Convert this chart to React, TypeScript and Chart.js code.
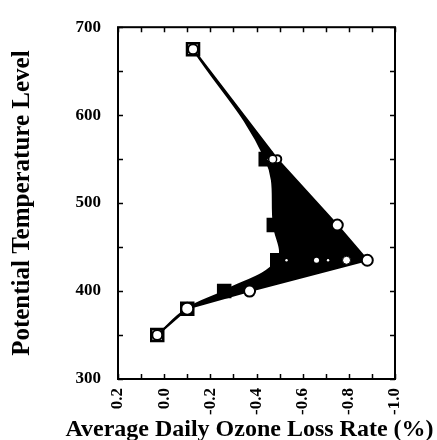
import React, { useEffect, useRef } from "react";
import { Chart, registerables } from "chart.js";

Chart.register(...registerables);

// Potential temperature levels (K) and average daily ozone loss rates (%)
const thetaLevels = [350, 380, 400, 435, 475, 550, 675];
const lossRateSquares = [0.03, -0.1, -0.26, -0.49, -0.475, -0.44, -0.125];
const lossRateCircles = [0.03, -0.1, -0.37, -0.88, -0.75, -0.49, -0.125];
const extraLevels = [550, 550, 435, 435, 435, 435];
const extraRates = [-0.455, -0.47, -0.53, -0.66, -0.71, -0.79];
const xTickValues = [0.2, 0.0, -0.2, -0.4, -0.6, -0.8, -1.0];
const yTickValues = [300, 400, 500, 600, 700];
const xMinorStep = 0.1;
const yMinorStep = 50;
const xAxisTitle = "Average Daily Ozone Loss Rate (%)";
const yAxisTitle = "Potential Temperature Level";

const FONT = "'Liberation Serif', 'Times New Roman', serif";

const framePlugin = {
  id: "frameTicks",
  afterDatasetsDraw(chart: any) {
    const { ctx, chartArea } = chart;
    const { left, right, top, bottom } = chartArea;
    const xs = chart.scales.x;
    const ys = chart.scales.y;
    ctx.save();
    ctx.strokeStyle = "#000";
    ctx.lineWidth = 2;
    ctx.strokeRect(left, top, right - left, bottom - top);
    ctx.lineWidth = 1.5;
    const len = 5;
    ctx.beginPath();
    for (let v = xs.min; v <= xs.max + 1e-9; v += xMinorStep) {
      const px = Math.round(xs.getPixelForValue(v)) + 0.5;
      ctx.moveTo(px, bottom);
      ctx.lineTo(px, bottom - len);
      ctx.moveTo(px, top);
      ctx.lineTo(px, top + len);
    }
    for (let v = ys.min; v <= ys.max + 1e-9; v += yMinorStep) {
      const py = Math.round(ys.getPixelForValue(v)) + 0.5;
      ctx.moveTo(left, py);
      ctx.lineTo(left + len, py);
      ctx.moveTo(right, py);
      ctx.lineTo(right - len, py);
    }
    ctx.stroke();
    ctx.restore();
  },
  afterDraw(chart: any) {
    const { ctx, chartArea } = chart;
    ctx.save();
    ctx.fillStyle = "#000";
    ctx.font = `bold 24px ${FONT}`;
    ctx.textAlign = "center";
    ctx.textBaseline = "alphabetic";
    ctx.fillText(xAxisTitle, (chartArea.left + chartArea.right) / 2 - 7, 436);
    ctx.restore();
  },
};

export default function App() {
  const ref = useRef<HTMLCanvasElement | null>(null);
  useEffect(() => {
    document.body.style.margin = "0";
    const canvas = ref.current;
    if (!canvas) return;
    const squares = thetaLevels.map((t, i) => ({ x: lossRateSquares[i], y: t }));
    const circles = thetaLevels.map((t, i) => ({ x: lossRateCircles[i], y: t }));
    const extras = extraLevels.map((t, i) => ({ x: extraRates[i], y: t }));
    const chart = new Chart(canvas, {
      type: "line",
      data: {
        datasets: [
          {
            label: "squares",
            data: squares,
            borderColor: "#000",
            borderWidth: 2,
            backgroundColor: "#000",
            fill: "+1",
            tension: 0.4,
            pointStyle: "rect",
            pointRadius: 8.5,
            pointBorderWidth: 2.5,
            pointBorderColor: "#000",
            pointBackgroundColor: ["#fff", "#000", "#000", "#000", "#000", "#000", "#fff"],
            order: 2,
          },
          {
            label: "circles",
            data: circles,
            borderColor: "#000",
            borderWidth: 2,
            backgroundColor: "#000",
            fill: false,
            tension: 0,
            pointStyle: "circle",
            pointRadius: [5, 6, 5.5, 5.5, 5.5, 4, 5],
            pointBorderWidth: 2,
            pointBorderColor: "#000",
            pointBackgroundColor: "#fff",
            order: 1,
          },
          {
            label: "extra",
            data: extras,
            showLine: false,
            fill: false,
            pointStyle: "circle",
            pointRadius: [1.5, 4, 1.2, 2.5, 1.2, 4],
            pointBorderWidth: [0, 1.5, 0, 0, 0, 1],
            pointBorderColor: "#000",
            pointBackgroundColor: "#fff",
            order: 0,
          },
        ],
      },
      options: {
        animation: false,
        responsive: false,
        indexAxis: "y",
        layout: { padding: { left: 0, top: 22, right: 42, bottom: 0 } },
        plugins: {
          legend: { display: false },
          tooltip: { enabled: false },
          filler: { drawTime: "beforeDatasetsDraw" },
        },
        scales: {
          x: {
            type: "linear",
            position: "bottom",
            min: -1.0,
            max: 0.2,
            reverse: true,
            afterBuildTicks: (s: any) => {
              s.ticks = xTickValues.map((v) => ({ value: v }));
            },
            afterFit: (s: any) => {
              s.height = 61;
            },
            grid: { display: false, drawTicks: false },
            border: { display: false },
            ticks: {
              color: "#000",
              padding: 9,
              minRotation: 90,
              maxRotation: 90,
              autoSkip: false,
              font: { family: FONT, size: 17, weight: "bold" },
              callback: (v: any) => Number(v).toFixed(1),
            },
            title: { display: false },
          },
          y: {
            type: "linear",
            position: "left",
            min: 300,
            max: 700,
            afterBuildTicks: (s: any) => {
              s.ticks = yTickValues.map((v) => ({ value: v }));
            },
            afterFit: (s: any) => {
              s.width = 118;
            },
            grid: { display: false, drawTicks: false },
            border: { display: false },
            ticks: {
              color: "#000",
              padding: 17,
              autoSkip: false,
              font: { family: FONT, size: 17, weight: "bold" },
            },
            title: {
              display: true,
              text: yAxisTitle,
              color: "#000",
              padding: { top: 8, bottom: 0 },
              font: { family: FONT, size: 25, weight: "bold" },
            },
          },
        },
      },
      plugins: [framePlugin],
    } as any);
    return () => chart.destroy();
  }, []);
  return (
    <div style={{ position: "absolute", left: 0, top: 0, width: 437, height: 440 }}>
      <canvas ref={ref} width={437} height={440} />
    </div>
  );
}
